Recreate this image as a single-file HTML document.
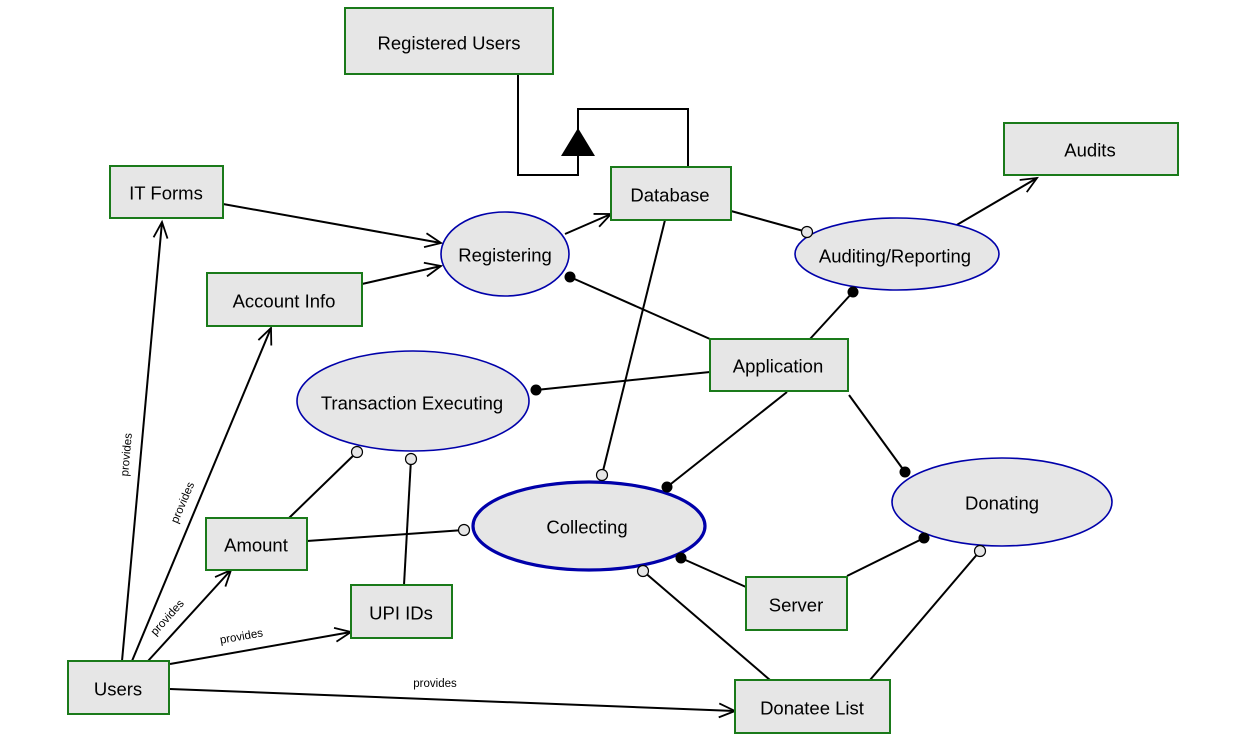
<!DOCTYPE html>
<html><head><meta charset="utf-8"><style>
html,body{margin:0;padding:0;background:#fff;}
svg{display:block;font-family:"Liberation Sans",Arial,sans-serif;}
.b{fill:#e6e6e6;stroke:#1a7a1a;stroke-width:2;}
.e{fill:#e6e6e6;stroke:#0000aa;stroke-width:1.6;}
.l{stroke:#000;stroke-width:2;fill:none;}
.t{font-size:18.5px;text-anchor:middle;dominant-baseline:central;fill:#000;}
.s{font-size:11.5px;text-anchor:middle;fill:#000;}
.oc{fill:#e6e6e6;stroke:#000;stroke-width:1.2;}
</style></head><body>
<svg width="1256" height="737" viewBox="0 0 1256 737">
<defs>
<marker id="a" markerWidth="20" markerHeight="20" refX="17" refY="8" orient="auto" markerUnits="userSpaceOnUse">
<path d="M1,1 L17,8 L1,15" fill="none" stroke="#000" stroke-width="1.8"/>
</marker>
</defs>
<polyline class="l" points="518,74 518,175 578,175 578,150"/>
<polyline class="l" points="578,135 578,109 688,109 688,167"/>
<polygon points="578,128 561,156 595,156" fill="#000"/>
<line class="l" x1="223" y1="204" x2="441" y2="243" marker-end="url(#a)"/>
<line class="l" x1="362" y1="284" x2="441" y2="266" marker-end="url(#a)"/>
<line class="l" x1="565" y1="234" x2="611" y2="214" marker-end="url(#a)"/>
<line class="l" x1="955" y1="226" x2="1037" y2="178" marker-end="url(#a)"/>
<line class="l" x1="731" y1="211" x2="807" y2="232"/>
<line class="l" x1="710" y1="339" x2="570" y2="277"/>
<line class="l" x1="810" y1="339" x2="853" y2="292"/>
<line class="l" x1="710" y1="372" x2="536" y2="390"/>
<line class="l" x1="787" y1="392" x2="667" y2="487"/>
<line class="l" x1="849" y1="395" x2="905" y2="472"/>
<line class="l" x1="665" y1="220" x2="602" y2="475"/>
<line class="l" x1="289" y1="518" x2="357" y2="452"/>
<line class="l" x1="404" y1="585" x2="411" y2="459"/>
<line class="l" x1="307" y1="541" x2="464" y2="530"/>
<line class="l" x1="746" y1="587" x2="681" y2="558"/>
<line class="l" x1="847" y1="576" x2="924" y2="538"/>
<line class="l" x1="770" y1="680" x2="643" y2="571"/>
<line class="l" x1="870" y1="680" x2="980" y2="551"/>
<line class="l" x1="122" y1="661" x2="162" y2="222" marker-end="url(#a)"/>
<line class="l" x1="132" y1="661" x2="271" y2="328" marker-end="url(#a)"/>
<line class="l" x1="148" y1="661" x2="231" y2="570" marker-end="url(#a)"/>
<line class="l" x1="170" y1="664" x2="351" y2="632" marker-end="url(#a)"/>
<line class="l" x1="170" y1="689" x2="735" y2="711" marker-end="url(#a)"/>
<text class="s" transform="translate(130,455) rotate(-85)">provides</text>
<text class="s" transform="translate(186,504) rotate(-67)">provides</text>
<text class="s" transform="translate(170,620) rotate(-48)">provides</text>
<text class="s" transform="translate(242,640) rotate(-10)">provides</text>
<text class="s" x="435" y="687">provides</text>
<rect class="b" x="345" y="8" width="208" height="66"/><text class="t" x="449" y="43">Registered Users</text>
<rect class="b" x="110" y="166" width="113" height="52"/><text class="t" x="166" y="193">IT Forms</text>
<rect class="b" x="207" y="273" width="155" height="53"/><text class="t" x="284" y="301">Account Info</text>
<rect class="b" x="611" y="167" width="120" height="53"/><text class="t" x="670" y="195">Database</text>
<rect class="b" x="1004" y="123" width="174" height="52"/><text class="t" x="1090" y="150">Audits</text>
<rect class="b" x="710" y="339" width="138" height="52"/><text class="t" x="778" y="366">Application</text>
<rect class="b" x="206" y="518" width="101" height="52"/><text class="t" x="256" y="545">Amount</text>
<rect class="b" x="351" y="585" width="101" height="53"/><text class="t" x="401" y="613">UPI IDs</text>
<rect class="b" x="746" y="577" width="101" height="53"/><text class="t" x="796" y="605">Server</text>
<rect class="b" x="68" y="661" width="101" height="53"/><text class="t" x="118" y="689">Users</text>
<rect class="b" x="735" y="680" width="155" height="53"/><text class="t" x="812" y="708">Donatee List</text>
<ellipse class="e" cx="505" cy="254" rx="64" ry="42"/><text class="t" x="505" y="255">Registering</text>
<ellipse class="e" cx="897" cy="254" rx="102" ry="36"/><text class="t" x="895" y="256">Auditing/Reporting</text>
<ellipse class="e" cx="413" cy="401" rx="116" ry="50"/><text class="t" x="412" y="403">Transaction Executing</text>
<ellipse class="e" cx="589" cy="526" rx="116" ry="44" style="stroke-width:3.2"/><text class="t" x="587" y="527">Collecting</text>
<ellipse class="e" cx="1002" cy="502" rx="110" ry="44"/><text class="t" x="1002" y="503">Donating</text>
<circle class="oc" cx="807" cy="232" r="5.5"/>
<circle class="oc" cx="602" cy="475" r="5.5"/>
<circle class="oc" cx="357" cy="452" r="5.5"/>
<circle class="oc" cx="411" cy="459" r="5.5"/>
<circle class="oc" cx="464" cy="530" r="5.5"/>
<circle class="oc" cx="643" cy="571" r="5.5"/>
<circle class="oc" cx="980" cy="551" r="5.5"/>
<circle cx="570" cy="277" r="5.5"/>
<circle cx="853" cy="292" r="5.5"/>
<circle cx="536" cy="390" r="5.5"/>
<circle cx="667" cy="487" r="5.5"/>
<circle cx="905" cy="472" r="5.5"/>
<circle cx="681" cy="558" r="5.5"/>
<circle cx="924" cy="538" r="5.5"/>
</svg>
</body></html>
